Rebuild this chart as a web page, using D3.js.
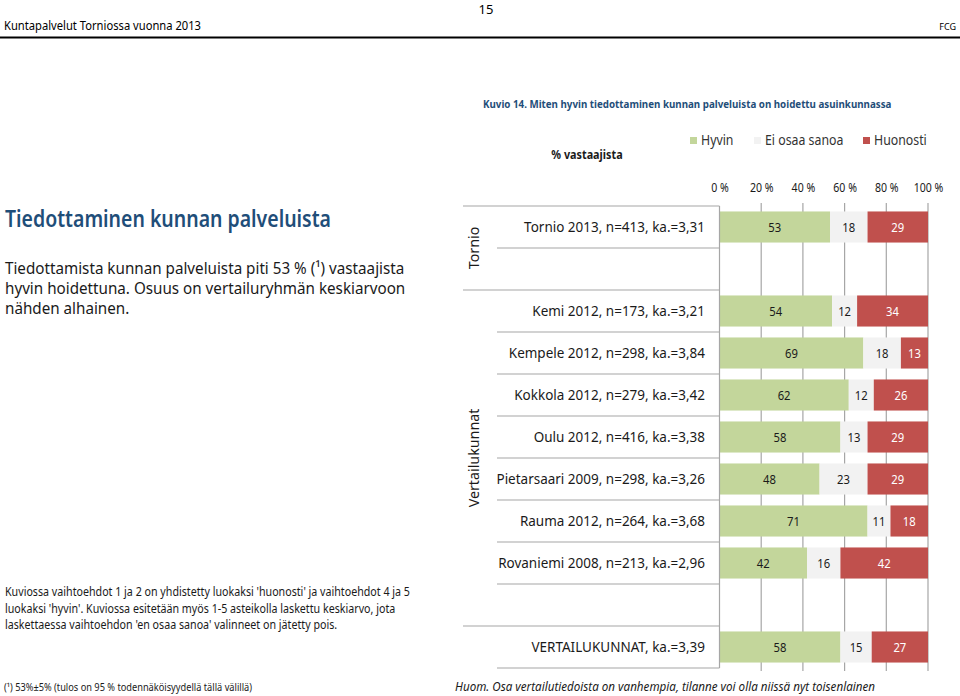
<!DOCTYPE html>
<html>
<head>
<meta charset="utf-8">
<script src="https://cdn.jsdelivr.net/npm/d3@7"></script>
<style>
  body { margin: 0; background: #fff; }
  text { font-family: "Noto Sans", sans-serif; }
</style>
</head>
<body>
<div id="chart"></div>
<script>
// data
var categories = [
  "Tornio 2013, n=413, ka.=3,31",
  "",
  "Kemi 2012, n=173, ka.=3,21",
  "Kempele 2012, n=298, ka.=3,84",
  "Kokkola 2012, n=279, ka.=3,42",
  "Oulu 2012, n=416, ka.=3,38",
  "Pietarsaari 2009, n=298, ka.=3,26",
  "Rauma 2012, n=264, ka.=3,68",
  "Rovaniemi 2008, n=213, ka.=2,96",
  "",
  "VERTAILUKUNNAT, ka.=3,39"
];
var hyvin    = [53, null, 54, 69, 62, 58, 48, 71, 42, null, 58];
var eiOsaa   = [18, null, 12, 18, 12, 13, 23, 11, 16, null, 15];
var huonosti = [29, null, 34, 13, 26, 29, 29, 18, 42, null, 27];
var seriesNames = ["Hyvin", "Ei osaa sanoa", "Huonosti"];
var groupNames = ["Tornio", "Vertailukunnat"];
var groupRows = [[0, 2], [2, 10]];   // first row, row after last
var xTicks = [0, 20, 40, 60, 80, 100];

var colors = ["#C3D69B", "#F2F2F2", "#C0504D"];
var labelColors = ["#1a1a1a", "#1a1a1a", "#ffffff"];
var blue = "#1F4E79";
var gridColor = "#A6A6A6";

var width = 960, height = 696;

var svg = d3.select("#chart")
    .append("svg")
    .attr("width", width)
    .attr("height", height);

// squeeze Noto Sans towards the narrow look of the original
function condense(sel, k) {
  sel.each(function() {
    var w = this.getComputedTextLength();
    d3.select(this).attr("textLength", w * k).attr("lengthAdjust", "spacingAndGlyphs");
  });
}
function fit(sel, w) {
  sel.attr("textLength", w).attr("lengthAdjust", "spacingAndGlyphs");
}

// page header
svg.append("text").attr("x", 486).attr("y", 14).attr("text-anchor", "middle")
    .attr("font-size", 13).text("15");
svg.append("text").attr("x", 4).attr("y", 30).attr("font-size", 12)
    .text("Kuntapalvelut Torniossa vuonna 2013").call(fit, 197);
svg.append("text").attr("x", 956).attr("y", 30).attr("text-anchor", "end")
    .attr("font-size", 9).text("FCG");
svg.append("line").attr("x1", 0).attr("x2", 960).attr("y1", 37.5).attr("y2", 37.5)
    .attr("stroke", "#000").attr("stroke-width", 1.8);

// left column text
svg.append("text").attr("x", 5).attr("y", 227).attr("font-size", 23).attr("fill", blue)
    .attr("font-weight", 600)
    .text("Tiedottaminen kunnan palveluista").call(fit, 326);

var para = [
  "Tiedottamista kunnan palveluista piti 53 % (\u00B9) vastaajista",
  "hyvin hoidettuna. Osuus on vertailuryhmän keskiarvoon",
  "nähden alhainen."
];
svg.selectAll(".para").data(para).enter().append("text")
    .attr("class", "para")
    .attr("x", 5)
    .attr("y", function(d, i) { return 274 + i * 20; })
    .attr("font-size", 16)
    .attr("fill", "#1a1a1a")
    .text(function(d) { return d; })
    .call(condense, 0.95);

var note = [
  "Kuviossa vaihtoehdot 1 ja 2 on yhdistetty luokaksi 'huonosti' ja vaihtoehdot 4 ja 5",
  "luokaksi 'hyvin'. Kuviossa esitetään myös 1-5 asteikolla laskettu keskiarvo, jota",
  "laskettaessa vaihtoehdon 'en osaa sanoa' valinneet on jätetty pois."
];
svg.selectAll(".note").data(note).enter().append("text")
    .attr("class", "note")
    .attr("x", 5)
    .attr("y", function(d, i) { return 596 + i * 16.5; })
    .attr("font-size", 12)
    .attr("fill", "#1a1a1a")
    .text(function(d) { return d; })
    .call(condense, 0.89);

svg.append("text").attr("x", 4).attr("y", 691).attr("font-size", 10).attr("fill", "#1a1a1a")
    .text("(\u00B9) 53%\u00B15% (tulos on 95 % todennäköisyydellä tällä välillä)").call(fit, 248);
svg.append("text").attr("x", 455).attr("y", 691).attr("font-size", 12).attr("font-style", "italic")
    .attr("fill", "#1a1a1a")
    .text("Huom. Osa vertailutiedoista on vanhempia, tilanne voi olla niissä nyt toisenlainen").call(fit, 420);

// chart title, legend
svg.append("text").attr("x", 483).attr("y", 108).attr("font-size", 10.5).attr("font-weight", "bold")
    .attr("fill", blue)
    .text("Kuvio 14. Miten hyvin tiedottaminen kunnan palveluista on hoidettu asuinkunnassa")
    .call(condense, 0.93);
svg.append("text").attr("x", 587).attr("y", 159).attr("text-anchor", "middle")
    .attr("font-size", 12).attr("font-weight", "bold").attr("fill", "#1a1a1a")
    .text("% vastaajista").call(condense, 0.9);

var legendX = [690, 754, 863];
var legend = svg.selectAll(".legend").data(seriesNames).enter().append("g")
    .attr("class", "legend")
    .attr("transform", function(d, i) { return "translate(" + legendX[i] + ",137)"; });
legend.append("rect").attr("width", 7).attr("height", 7)
    .attr("fill", function(d, i) { return colors[i]; });
legend.append("text").attr("x", 11).attr("y", 7.5).attr("font-size", 14).attr("fill", "#333")
    .text(function(d) { return d; })
    .call(condense, 0.88);

// scales
var x = d3.scaleLinear().domain([0, 100]).range([719.5, 928]);
var rowIds = categories.map(function(d, i) { return "r" + i; });
var y = d3.scaleBand().domain(rowIds).range([206, 668]).paddingInner(0.26).paddingOuter(0.13);
var step = y.step();

var rows = categories.map(function(c, i) {
  return { id: rowIds[i], name: c, "Hyvin": hyvin[i], "Ei osaa sanoa": eiOsaa[i], "Huonosti": huonosti[i] };
});
var stacked = d3.stack().keys(seriesNames)
    .value(function(d, k) { return d[k] || 0; })(rows);

// gridlines
svg.append("g").selectAll("line").data(xTicks.slice(1)).enter().append("line")
    .attr("x1", function(d) { return x(d); }).attr("x2", function(d) { return x(d); })
    .attr("y1", 203).attr("y2", 671)
    .attr("stroke", gridColor).attr("stroke-width", 1.2);

// top axis labels
var xAxis = svg.append("g")
    .attr("transform", "translate(0,192)")
    .call(d3.axisTop(x).tickValues(xTicks).tickSize(0).tickPadding(0)
      .tickFormat(function(d) { return d + " %"; }));
xAxis.select(".domain").remove();
xAxis.selectAll("text").attr("font-family", "Noto Sans").attr("font-size", 12)
    .attr("fill", "#1a1a1a").attr("dy", 0).call(condense, 0.88);

// bars
var layer = svg.selectAll(".layer").data(stacked).enter().append("g")
    .attr("class", "layer")
    .attr("fill", function(d, i) { return colors[i]; });
layer.selectAll("rect")
    .data(function(d) { return d.filter(function(p) { return p[1] > p[0]; }); })
    .enter().append("rect")
    .attr("x", function(d) { return x(d[0]); })
    .attr("width", function(d) { return x(d[1]) - x(d[0]); })
    .attr("y", function(d) { return y(d.data.id); })
    .attr("height", y.bandwidth());

// value labels
stacked.forEach(function(s, si) {
  svg.append("g").selectAll("text")
      .data(s.filter(function(p) { return p[1] > p[0]; }))
      .enter().append("text")
      .attr("x", function(d) { return (x(d[0]) + x(d[1])) / 2; })
      .attr("y", function(d) { return y(d.data.id) + y.bandwidth() / 2 + 4.5; })
      .attr("text-anchor", "middle")
      .attr("font-size", 12.5)
      .attr("fill", labelColors[si])
      .text(function(d) { return d[1] - d[0]; })
      .call(condense, 0.9);
});

// left axis line and category separators
svg.append("line").attr("x1", x(0)).attr("x2", x(0)).attr("y1", 206).attr("y2", 668)
    .attr("stroke", gridColor).attr("stroke-width", 1.2);

var groupEdges = [];
groupRows.forEach(function(g) { groupEdges.push(g[0], g[1]); });
svg.append("g").selectAll("line").data(d3.range(categories.length + 1)).enter().append("line")
    .attr("x1", function(i) { return groupEdges.indexOf(i) >= 0 && i < categories.length ? 463 : 497; })
    .attr("x2", x(0))
    .attr("y1", function(i) { return y.range()[0] + i * step; })
    .attr("y2", function(i) { return y.range()[0] + i * step; })
    .attr("stroke", gridColor).attr("stroke-width", 1.2);

// category labels
svg.append("g").selectAll("text").data(rows).enter().append("text")
    .attr("x", 705)
    .attr("y", function(d) { return y(d.id) + y.bandwidth() / 2 + 5; })
    .attr("text-anchor", "end")
    .attr("font-size", 14.5)
    .attr("fill", "#1a1a1a")
    .text(function(d) { return d.name; })
    .call(condense, 0.93);

// group labels
svg.append("g").selectAll("text").data(groupNames).enter().append("text")
    .attr("transform", function(d, i) {
      var cy = y.range()[0] + (groupRows[i][0] + groupRows[i][1]) / 2 * step;
      return "translate(479," + cy + ") rotate(-90)";
    })
    .attr("text-anchor", "middle")
    .attr("font-size", 15)
    .attr("fill", "#1a1a1a")
    .text(function(d) { return d; })
    .call(condense, 0.95);
</script>
</body>
</html>
